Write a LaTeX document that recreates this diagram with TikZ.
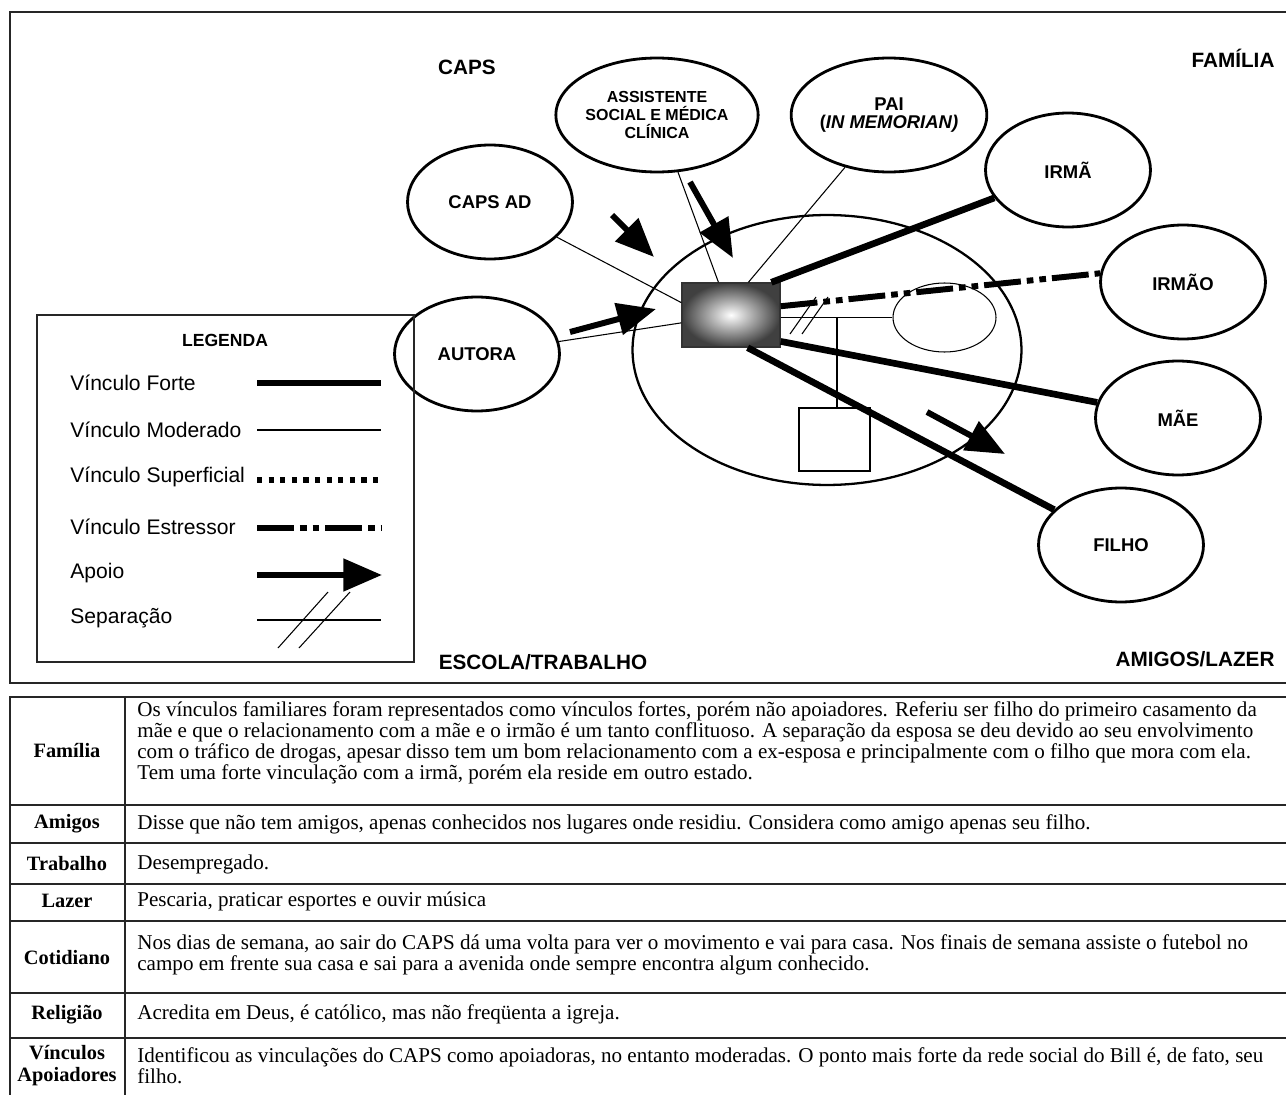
\documentclass[tikz,border=0pt]{standalone}
\usepackage{fontspec}
\setmainfont{Liberation Serif}
\setsansfont{Liberation Sans}
\usetikzlibrary{shapes.geometric, arrows.meta, positioning}

\begin{document}
\begin{tikzpicture}[x=0.02cm, y=-0.02cm,
    membro/.style={ellipse, draw, line width=1.6pt, minimum width=3.3cm,
        minimum height=2.28cm, inner sep=0pt, align=center,
        font=\sffamily\bfseries\fontsize{10.5}{10.5}\selectfont},
    setor/.style={font=\sffamily\bfseries\fontsize{11.8}{13}\selectfont},
    forte/.style={line width=3.8pt},
    moderado/.style={line width=0.6pt},
    superficial/.style={line width=3pt, dash pattern=on 3pt off 3.6pt},
    estressor/.style={line width=3.4pt, dash pattern=on 21pt off 3.4pt on 3.8pt off 3.4pt on 3.8pt off 3.4pt},
    apoio/.style={line width=3.4pt, -{Triangle[length=22pt,width=18pt]}},
    fino/.style={line width=0.6pt},
    legtxt/.style={anchor=west, inner sep=0pt, font=\sffamily\fontsize{12}{13}\selectfont},
    rotulo/.style={inner sep=0pt, align=center, font=\bfseries\fontsize{11.6}{12.5}\selectfont},
    texto/.style={anchor=west, inner sep=0pt, align=left, font=\fontsize{12}{11.9}\selectfont}
]
\useasboundingbox (0,0) rectangle (1286,1095);

% moldura do ecomapa
\draw[line width=1pt, black!85] (1292,12) -- (10,12) -- (10,683) -- (1292,683);

% setores
\node[setor] (s_caps) at (467,67) {CAPS};
\node[setor] (s_familia) at (1233,58) {FAMÍLIA};
\node[setor] (s_escola) at (543,662) {ESCOLA/TRABALHO};
\node[setor] (s_amigos) at (1195,659) {AMIGOS/LAZER};

% casa
\node[ellipse, draw, line width=1.3pt, minimum width=7.78cm, minimum height=5.4cm] (casa) at (827,350) {};
\node[ellipse, draw, fino, minimum width=2.06cm, minimum height=1.38cm] (esposa) at (944.5,317.5) {};
\node[rectangle, draw, fino, minimum width=1.42cm, minimum height=1.26cm] (filho_sq) at (834.5,439.5) {};

% pessoa indice
\node[rectangle, draw=black!80, line width=0.8pt, minimum width=1.96cm, minimum height=1.28cm,
    inner color=white, outer color=black!75, shading=radial] (bill) at (731,315) {};

% pessoas e servicos
\node[membro] (caps_ad) at (490,202) {CAPS AD};
\node[membro, font=\sffamily\bfseries\fontsize{9.1}{10.2}\selectfont] (assist) at (657,115) {ASSISTENTE\\SOCIAL E MÉDICA\\CLÍNICA};
\node[membro] (pai) at (889,115) {PAI\\(\textit{IN MEMORIAN)}};
\node[membro] (irma) at (1068,170) {IRMÃ};
\node[membro] (irmao) at (1183,282) {IRMÃO};
\node[membro] (autora) at (477,354) {AUTORA};
\node[membro] (mae) at (1178,418) {MÃE};
\node[membro] (filho) at (1121,545) {FILHO};

% vinculos
\coordinate (jn) at (837,317.5);
\path[fino]
    (esposa.west -| bill.east) edge (esposa.west)
    (jn) edge (jn |- filho_sq.north);
\draw[fino] (790,334) -- (816,297) (802,334) -- (828,297);
\path[moderado]
    (caps_ad) edge (bill.166)
    (autora) edge (bill.189)
    (assist) edge (bill.111)
    (pai) edge (bill.62);
\path[forte]
    (bill.39) edge (irma)
    (bill.332) edge (mae)
    (bill.297) edge (filho);
\path[estressor] (bill.10) edge (irmao.174);

% apoio
\coordinate (ap1a) at (612,215); \coordinate (ap1b) at (654,257);
\coordinate (ap2a) at (690,182); \coordinate (ap2b) at (733,258);
\coordinate (ap3a) at (570,332); \coordinate (ap3b) at (656,309);
\coordinate (ap4a) at (927,412); \coordinate (ap4b) at (1005,454);
\draw[apoio] (ap1a) -- (ap1b);
\draw[apoio] (ap2a) -- (ap2b);
\draw[apoio] (ap3a) -- (ap3b);
\draw[apoio] (ap4a) -- (ap4b);

% legenda
\draw[line width=1pt, black!85] (37,315) rectangle (414,662);
\node[font=\sffamily\bfseries\fontsize{10}{12}\selectfont] (l_tit) at (225,340) {LEGENDA};
\node[legtxt] (l_forte) at (70,383) {Vínculo Forte};
\node[legtxt] (l_mod) at (70,430) {Vínculo Moderado};
\node[legtxt] (l_sup) at (70,477) {Vínculo Superficial};
\node[legtxt] (l_est) at (70,527) {Vínculo Estressor};
\node[legtxt] (l_apoio) at (70,573) {Apoio};
\node[legtxt] (l_sep) at (70,618) {Separação};
\draw[line width=3.4pt] (257,383) -- (381,383);
\draw[moderado] (257,430) -- (381,430);
\draw[superficial] (257,480) -- (382,480);
\draw[estressor, line width=3pt] (257,528) -- (382,528);
\draw[apoio] (257,575) -- (382,575);
\draw[fino] (257,620) -- (381,620);
\draw[fino] (278,648) -- (328,592) (299,648) -- (350,592);

% tabela
\draw[line width=1pt, black!85] (1292,697) -- (10,697) -- (10,1110);
\foreach \y in {805,843,884,921,993,1038}
    \draw[line width=1pt, black!85] (10,\y) -- (1292,\y);
\draw[line width=1pt, black!85] (125,697) -- (125,1110);

\node[rotulo] (r_familia) at (67,751) {Família};
\node[rotulo] (r_amigos) at (67,824) {Amigos};
\node[rotulo] (r_trabalho) at (67,864) {Trabalho};
\node[rotulo] (r_lazer) at (67,901) {Lazer};
\node[rotulo] (r_cotidiano) at (67,958) {Cotidiano};
\node[rotulo] (r_religiao) at (67,1015) {Religião};
\node[rotulo] (r_vinculos) at (67,1066) {Vínculos\\Apoiadores};

\node[texto] (t_familia) at (137,743) {Os vínculos familiares foram representados como vínculos fortes, porém não apoiadores. Referiu ser filho do primeiro casamento da\\
mãe e que o relacionamento com a mãe e o irmão é um tanto conflituoso. A separação da esposa se deu devido ao seu envolvimento\\
com o tráfico de drogas, apesar disso tem um bom relacionamento com a ex-esposa e principalmente com o filho que mora com ela.\\
Tem uma forte vinculação com a irmã, porém ela reside em outro estado.};
\node[texto] (t_amigos) at (137,824) {Disse que não tem amigos, apenas conhecidos nos lugares onde residiu. Considera como amigo apenas seu filho.};
\node[texto] (t_trabalho) at (137,864) {Desempregado.};
\node[texto] (t_lazer) at (137,901) {Pescaria, praticar esportes e ouvir música};
\node[texto] (t_cotidiano) at (137,955) {Nos dias de semana, ao sair do CAPS dá uma volta para ver o movimento e vai para casa. Nos finais de semana assiste o futebol no\\
campo em frente sua casa e sai para a avenida onde sempre encontra algum conhecido.};
\node[texto] (t_religiao) at (137,1014) {Acredita em Deus, é católico, mas não freqüenta a igreja.};
\node[texto] (t_vinculos) at (137,1066) {Identificou as vinculações do CAPS como apoiadoras, no entanto moderadas. O ponto mais forte da rede social do Bill é, de fato, seu\\
filho.};
\end{tikzpicture}
\end{document}
